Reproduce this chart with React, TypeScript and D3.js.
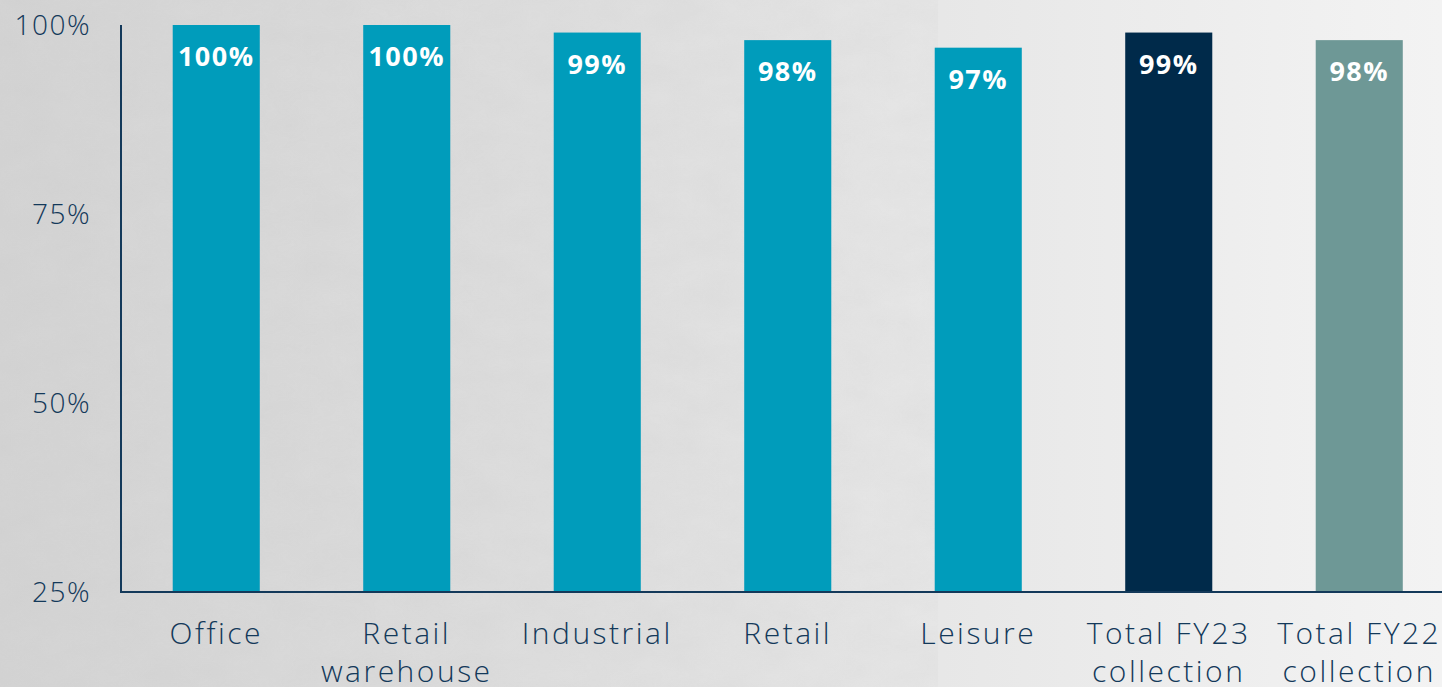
import React from 'react';
import * as d3 from 'd3';

const categories = [
  ['Office'],
  ['Retail', 'warehouse'],
  ['Industrial'],
  ['Retail'],
  ['Leisure'],
  ['Total FY23', 'collection'],
  ['Total FY22', 'collection'],
];
const values = [100, 100, 99, 98, 97, 99, 98];
const barColors = ['#009cbb', '#009cbb', '#009cbb', '#009cbb', '#009cbb', '#002a4a', '#6e9896'];
const yTicks = [25, 50, 75, 100];

const W = 1442;
const H = 687;
const FONT = "'Open Sans', 'Noto Sans', sans-serif";

export default function App() {
  const keys = categories.map((c) => c.join(' '));
  const x = d3.scaleBand().domain(keys).range([121, 121 + 7 * 190.5]).paddingInner(0.543).paddingOuter(0.2715);
  const y = d3.scaleLinear().domain([25, 100]).range([592, 25]);
  const axisColor = '#13395a';

  return (
    <div style={{ position: 'fixed', left: 0, top: 0 }}>
      <svg width={W} height={H} style={{ display: 'block' }}>
        <defs>
          <linearGradient id="bg" x1="0" x2="1" y1="0" y2="0">
            <stop offset="0" stopColor="#d4d4d4" />
            <stop offset="0.45" stopColor="#e0e0e0" />
            <stop offset="1" stopColor="#f3f3f3" />
          </linearGradient>
          <filter id="noise" x="0" y="0" width="100%" height="100%">
            <feTurbulence type="fractalNoise" baseFrequency="0.02 0.035" numOctaves="4" seed="7" />
            <feColorMatrix type="matrix" values="0 0 0 0 0.5  0 0 0 0 0.5  0 0 0 0 0.5  0 0 0 0.22 0" />
          </filter>
        </defs>
        <rect width={W} height={H} fill="url(#bg)" />
        <rect width={W * 0.65} height={H} fill="#000" filter="url(#noise)" opacity={0.6} />

        {yTicks.map((t) => (
          <text key={t} x={91} y={y(t)} dy="0.35em" textAnchor="end" fontFamily={FONT} fontWeight={300}
            fontSize={28} letterSpacing={1.5} fill={axisColor}>{t}%</text>
        ))}

        {values.map((v, i) => {
          const bx = x(keys[i])!;
          const bw = x.bandwidth();
          return (
            <g key={keys[i]}>
              <rect x={bx} y={y(v)} width={bw} height={y(25) - y(v)} fill={barColors[i]} />
              <text x={bx + bw / 2} y={y(v) + 41} textAnchor="middle" fontFamily={FONT} fontWeight={700}
                fontSize={27} letterSpacing={1.5} fill="#fff">{v}%</text>
            </g>
          );
        })}

        <line x1={121} x2={121} y1={25} y2={592} stroke={axisColor} strokeWidth={2} />
        <line x1={120} x2={W} y1={592} y2={592} stroke={axisColor} strokeWidth={2} />

        {categories.map((lines, i) => (
          <text key={keys[i]} textAnchor="middle" fontFamily={FONT} fontWeight={300} fontSize={30}
            letterSpacing={2.5} fill={axisColor}>
            {lines.map((l, j) => (
              <tspan key={j} x={x(keys[i])! + x.bandwidth() / 2} y={644 + j * 38}>{l}</tspan>
            ))}
          </text>
        ))}
      </svg>
    </div>
  );
}
